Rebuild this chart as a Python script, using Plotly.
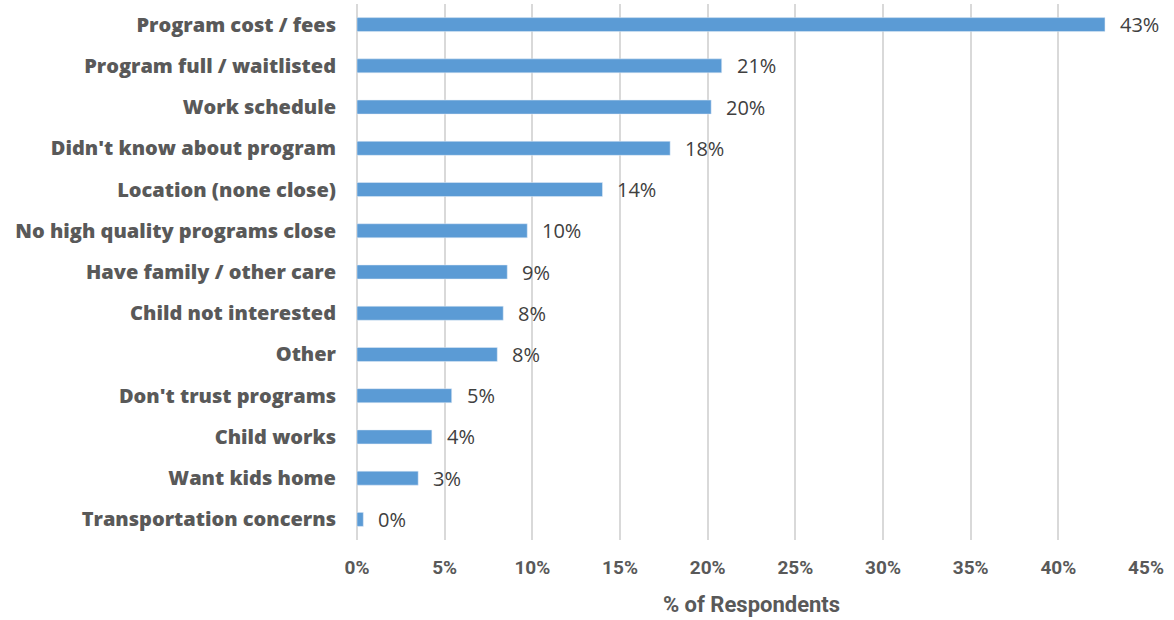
import plotly.graph_objects as go

categories = [
    "Program cost / fees",
    "Program full / waitlisted",
    "Work schedule",
    "Didn't know about program",
    "Location (none close)",
    "No high quality programs close",
    "Have family / other care",
    "Child not interested",
    "Other",
    "Don't trust programs",
    "Child works",
    "Want kids home",
    "Transportation concerns",
]
values = [0.4266, 0.208, 0.202, 0.1786, 0.140, 0.0971, 0.0857, 0.0834, 0.080, 0.054, 0.0427, 0.0349, 0.0036]
x_ticks = [0, 0.05, 0.10, 0.15, 0.20, 0.25, 0.30, 0.35, 0.40, 0.45]
x_tick_labels = ["0%", "5%", "10%", "15%", "20%", "25%", "30%", "35%", "40%", "45%"]

labels = [f"{round(v * 100):.0f}%" for v in values]

fig = go.Figure(
    go.Bar(
        y=categories,
        x=values,
        orientation="h",
        marker=dict(color="#5B9BD5"),
        hoverinfo="x+y",
    )
)

for cat, v, lab in zip(categories, values, labels):
    fig.add_annotation(
        x=v, y=cat, text=lab, showarrow=False, xanchor="left", yanchor="middle",
        xshift=13, font=dict(family="Open Sans", size=20, color="#404040"),
    )

fig.update_layout(
    width=1174,
    height=620,
    margin=dict(l=357, r=28, t=4, b=80),
    plot_bgcolor="white",
    paper_bgcolor="white",
    bargap=0.66,
    showlegend=False,
    xaxis=dict(
        range=[0, 0.45],
        tickvals=x_ticks,
        ticktext=x_tick_labels,
        showgrid=True,
        gridcolor="#D9D9D9",
        gridwidth=2,
        zeroline=True,
        zerolinecolor="#D9D9D9",
        zerolinewidth=2,
        tickfont=dict(family="Roboto", size=19, color="#595959", weight="bold"),
        ticklabelstandoff=14,
        title=dict(
            text="% of Respondents",
            font=dict(family="Roboto", size=22, color="#595959", weight="bold"),
            standoff=18,
        ),
        automargin=False,
    ),
    yaxis=dict(
        categoryorder="array",
        categoryarray=categories[::-1],
        tickfont=dict(family="Open Sans", size=20, color="#595959", weight=800),
        ticklabelstandoff=20,
        showgrid=False,
        automargin=False,
    ),
)

fig.write_html(
    "out.html",
    config={"displayModeBar": False},
    post_script="document.body.style.margin='0px';",
)
